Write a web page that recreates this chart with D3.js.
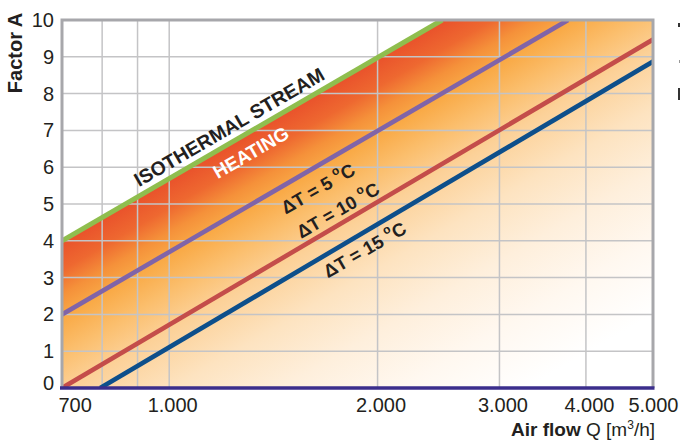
<!DOCTYPE html>
<html>
<head>
<meta charset="utf-8">
<script src="https://cdn.jsdelivr.net/npm/d3@7"></script>
<style>
  html, body { margin: 0; padding: 0; background: #fff; }
  svg { display: block; }
  text { font-family: "Liberation Sans", Arial, sans-serif; fill: #231f20; }
</style>
</head>
<body>
<svg id="chart" width="680" height="443"></svg>
<script>
// ---------------- data ----------------
const xTicks = [700, 1000, 2000, 3000, 4000, 5000];
const xTickLabels = ["700", "1.000", "2.000", "3.000", "4.000", "5.000"];
const xGrid = [800, 900, 1000, 2000, 3000, 4000];
const yTicks = [0, 1, 2, 3, 4, 5, 6, 7, 8, 9, 10];

const isoQ = [700, 2480];   const isoA = [4, 10];      // isothermal stream
const dt5Q = [700, 3770];   const dt5A = [2, 10];      // ΔT = 5 °C
const dt10Q = [700, 5000];  const dt10A = [0, 9.47];   // ΔT = 10 °C
const dt15Q = [795, 5000];  const dt15A = [0, 8.87];   // ΔT = 15 °C

const seriesNames = ["iso", "dt5", "dt10", "dt15"];
const seriesColors = ["#8fbe4e", "#8064a8", "#c44d4a", "#0d4f8b"];

// ---------------- layout ----------------
const svg = d3.select("#chart");
const L = 62, R = 653, T = 20, B = 388;
const x = d3.scaleLog().domain([700, 5000]).range([L, R]);
const y = d3.scaleLinear().domain([0, 10]).range([B, T]);

const defs = svg.append("defs");
defs.append("clipPath").attr("id", "plotClip")
  .append("rect").attr("x", L).attr("y", T).attr("width", R - L).attr("height", B - T);

const pts = (Q, A) => Q.map((q, i) => [q, A[i]]);
const iso = pts(isoQ, isoA), dt5 = pts(dt5Q, dt5A), dt10 = pts(dt10Q, dt10A), dt15 = pts(dt15Q, dt15A);

// angle of the lines in pixel space
const px0 = [x(iso[0][0]), y(iso[0][1])], px1 = [x(iso[1][0]), y(iso[1][1])];
const theta = Math.atan2(px0[1] - px1[1], px1[0] - px0[0]); // radians, positive upward
const nrm = [Math.sin(theta), Math.cos(theta)]; // perpendicular pointing down-right
const dist = (R - px0[0]) * nrm[0] + (B - px0[1]) * nrm[1];

const grad = defs.append("linearGradient").attr("id", "heatGrad")
  .attr("gradientUnits", "userSpaceOnUse")
  .attr("x1", px0[0]).attr("y1", px0[1])
  .attr("x2", px0[0] + nrm[0] * dist).attr("y2", px0[1] + nrm[1] * dist);
[[0, "#e9512b"], [0.06, "#ee6830"], [0.11, "#f5913a"], [0.16, "#f9aa47"], [0.23, "#fbbe6c"],
 [0.31, "#fcd198"], [0.43, "#fde3c0"], [0.56, "#feefdc"], [0.7, "#fff8f0"], [0.85, "#ffffff"]]
  .forEach(([o, c]) => grad.append("stop").attr("offset", o).attr("stop-color", c));

const plot = svg.append("g").attr("clip-path", "url(#plotClip)");

// heated area below the isothermal line
const areaPts = iso.concat([[5000, 10]]);
plot.append("path")
  .datum(areaPts)
  .attr("fill", "url(#heatGrad)")
  .attr("d", d3.area().x(d => x(d[0])).y0(y(0)).y1(d => y(d[1])));

// grid
plot.append("g").selectAll("line").data(yTicks.filter(v => v > 0 && v < 10)).join("line")
  .attr("x1", L).attr("x2", R).attr("y1", d => y(d)).attr("y2", d => y(d))
  .attr("stroke", "#c4c4c6").attr("stroke-width", 1.5);
plot.append("g").selectAll("line").data(xGrid).join("line")
  .attr("x1", d => x(d)).attr("x2", d => x(d)).attr("y1", T).attr("y2", B)
  .attr("stroke", "#c4c4c6").attr("stroke-width", 1.5);

// lines
const line = d3.line().x(d => x(d[0])).y(d => y(d[1]));
[iso, dt5, dt10, dt15].forEach((s, i) => {
  plot.append("path").datum(s)
    .attr("fill", "none")
    .attr("stroke", seriesColors[i])
    .attr("stroke-width", i === 0 ? 5 : 4.6)
    .attr("d", line);
});

// frame
svg.append("path")
  .attr("d", `M${L},${B} V${T} H${R} V${B}`)
  .attr("fill", "none").attr("stroke", "#a7a7ab").attr("stroke-width", 3);
svg.append("line").attr("x1", L - 2).attr("x2", R + 1.5).attr("y1", B).attr("y2", B)
  .attr("stroke", "#3b2e8c").attr("stroke-width", 3.5);

// axes
const yAxis = svg.append("g").attr("transform", `translate(${L},0)`)
  .call(d3.axisLeft(y).tickValues(yTicks).tickSize(0).tickPadding(8));
yAxis.select(".domain").remove();
yAxis.selectAll("text").style("font-size", "20px").attr("fill", "#231f20")
  .attr("font-family", "Liberation Sans, Arial, sans-serif");
yAxis.selectAll(".tick").filter(d => d === 0).select("text").attr("y", -5);

const xAxis = svg.append("g").attr("transform", `translate(0,${B})`)
  .call(d3.axisBottom(x).tickValues(xTicks).tickFormat((d, i) => xTickLabels[i]).tickSize(0).tickPadding(10));
xAxis.select(".domain").remove();
xAxis.selectAll("text").style("font-size", "20px").attr("fill", "#231f20")
  .attr("font-family", "Liberation Sans, Arial, sans-serif").attr("x", 3);
xAxis.selectAll(".tick").filter(d => d === 700).select("text")
  .attr("text-anchor", "start").attr("x", -4);
xAxis.selectAll(".tick").filter(d => d === 5000).select("text")
  .attr("text-anchor", "end").attr("x", 25);

// axis titles
svg.append("text")
  .attr("transform", "translate(22,53) rotate(-90)")
  .attr("text-anchor", "middle")
  .style("font-size", "20px").style("font-weight", "bold")
  .text("Factor A");

const xt = svg.append("text").attr("x", 655).attr("y", 436).attr("text-anchor", "end")
  .style("font-size", "19px");
xt.append("tspan").style("font-weight", "bold").text("Air flow");
xt.append("tspan").text(" Q [m");
xt.append("tspan").style("font-size", "12px").attr("dy", -7).text("3");
xt.append("tspan").attr("dy", 7).text("/h]");

// rotated labels
const deg = theta * 180 / Math.PI;
function labelAt(series, q, off) {
  const a0 = series[0], a1 = series[1];
  const t = (Math.log(q) - Math.log(a0[0])) / (Math.log(a1[0]) - Math.log(a0[0]));
  const px = x(q), py = y(a0[1] + t * (a1[1] - a0[1]));
  return [px + nrm[0] * off, py + nrm[1] * off];
}
function rotText(pos, fill, size) {
  return svg.append("text")
    .attr("transform", `translate(${pos[0]},${pos[1]}) rotate(${-deg})`)
    .attr("text-anchor", "middle").attr("dominant-baseline", "central")
    .style("font-size", size + "px").style("font-weight", "bold")
    .style("fill", fill);
}
rotText(labelAt(iso, 1250, -14.6), "#231f20", 19.5).text("ISOTHERMAL STREAM");
rotText(labelAt(iso, 1272, 18.6), "#ffffff", 19).text("HEATING");

function dtLabel(series, q, off, val) {
  const t = rotText(labelAt(series, q, off), "#231f20", 18.5);
  t.append("tspan").text("ΔT = " + val + " ");
  t.append("tspan").style("font-size", "12px").attr("dy", -6).text("o");
  t.append("tspan").attr("dy", 6).text("C");
}
dtLabel(dt5, 1586, 19.4, 5);
dtLabel(dt10, 1791, -13.5, 10);
dtLabel(dt15, 1867, 14.9, 15);

// clipped fragments at the right edge
[[678, 23, 3, 4, "#333"], [679, 60, 2, 3, "#999"], [678, 88, 3, 12, "#333"]].forEach(r =>
  svg.append("rect").attr("x", r[0]).attr("y", r[1]).attr("width", r[2]).attr("height", r[3]).attr("fill", r[4]));
</script>
</body>
</html>
